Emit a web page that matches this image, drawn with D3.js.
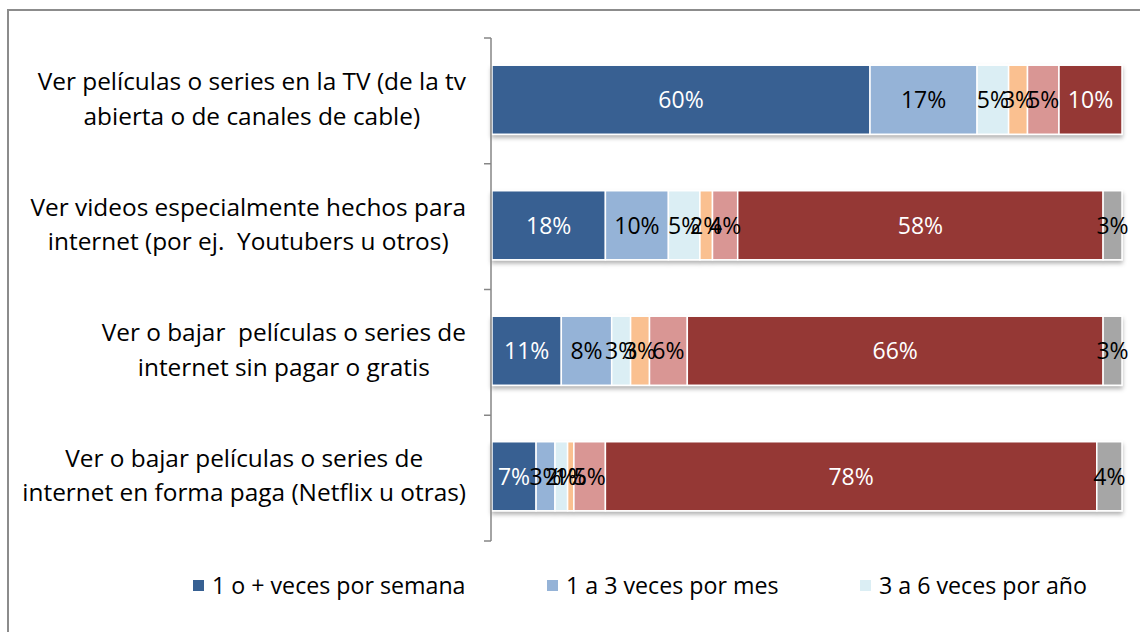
<!DOCTYPE html>
<html><head><meta charset="utf-8">
<script src="https://cdn.jsdelivr.net/npm/d3@7"></script>
<style>
html,body{margin:0;padding:0;background:#fff;}
svg{display:block;font-family:"Open Sans","Noto Sans",sans-serif;}
text{white-space:pre;}
</style></head>
<body>
<svg id="chart" width="1140" height="632"></svg>
<script>
const categories = [
  ["Ver películas o series en la TV (de la tv", "abierta o de canales de cable)"],
  ["Ver videos especialmente hechos para", "internet (por ej.  Youtubers u otros)"],
  ["Ver o bajar  películas o series de", "internet sin pagar o gratis"],
  ["Ver o bajar películas o series de", "internet en forma paga (Netflix u otras)"]
];
// one array per series, values per category (%)
const s1 = [60, 18, 11, 7];
const s2 = [17, 10, 8, 3];
const s3 = [5, 5, 3, 2];
const s4 = [3, 2, 3, 1];
const s5 = [5, 4, 6, 5];
const s6 = [10, 58, 66, 78];
const s7 = [0, 3, 3, 4];
const seriesValues = [s1, s2, s3, s4, s5, s6, s7];
const seriesColors = ["#376092", "#95B3D7", "#DBEEF4", "#FAC090", "#D99694", "#953735", "#A6A6A6"];
const labelColors = ["#fff", "#000", "#000", "#000", "#000", "#fff", "#000"];
const legendNames = ["1 o + veces por semana", "1 a 3 veces por mes", "3 a 6 veces por año"];

const svg = d3.select("#chart");
const defs = svg.append("defs");
const f = defs.append("filter").attr("id","sh").attr("x","-5%").attr("y","-10%").attr("width","110%").attr("height","140%");
f.append("feDropShadow").attr("dx",0).attr("dy",3).attr("stdDeviation",2).attr("flood-color","#000").attr("flood-opacity",0.3);

// frame
svg.append("rect").attr("x",8).attr("y",10).attr("width",1140).attr("height",640)
  .attr("fill","none").attr("stroke","#8c8c8c").attr("stroke-width",2);

const x = d3.scaleLinear().domain([0,100]).range([492,1122]);
const y = d3.scaleBand().domain(d3.range(categories.length)).range([37,539]).paddingInner(0.45).paddingOuter(0.225);
const yb = d3.scaleBand().domain(d3.range(categories.length)).range([38,541]);

// stacked data
const rows = categories.map((c,i)=>{
  let acc=0;
  return seriesValues.map((s,k)=>{ const d={row:i,k:k,v:s[i],x0:acc,x1:acc+s[i]}; acc+=s[i]; return d; });
});

const gBars = svg.append("g");
rows.forEach((r,i)=>{
  const g = gBars.append("g").attr("filter","url(#sh)");
  g.selectAll("rect").data(r.filter(d=>d.v>0)).join("rect")
    .attr("x",d=>x(d.x0)).attr("width",d=>x(d.x1)-x(d.x0))
    .attr("y",y(i)).attr("height",y.bandwidth())
    .attr("fill",d=>seriesColors[d.k]).attr("stroke","#fff").attr("stroke-width",1.5);
});
rows.forEach((r,i)=>{
  gBars.append("g").selectAll("text").data(r.filter(d=>d.v>0)).join("text")
    .attr("x",d=>(x(d.x0)+x(d.x1))/2).attr("y",y(i)+y.bandwidth()/2)
    .attr("dy","0.36em").attr("text-anchor","middle")
    .attr("font-size",23).attr("fill",d=>labelColors[d.k])
    .text(d=>d.v+"%");
});

// axis
const axis = d3.axisLeft(yb).tickSize(7).tickFormat("");
const ga = svg.append("g").attr("transform","translate(491,0)").call(axis);
ga.select(".domain").remove();
ga.selectAll(".tick").remove();
ga.append("line").attr("x1",0).attr("x2",0).attr("y1",38).attr("y2",541).attr("stroke","#868686").attr("stroke-width",1.5);
const tickYs = yb.domain().map(d=>yb(d)).concat([yb.range()[1]]);
ga.selectAll("line.t").data(tickYs).join("line").attr("class","t")
  .attr("x1",-7).attr("x2",0).attr("y1",d=>d).attr("y2",d=>d).attr("stroke","#868686").attr("stroke-width",1.5);

// category labels
const gl = svg.append("g");
categories.forEach((lines,i)=>{
  const cy = y(i)+y.bandwidth()/2;
  const t = gl.append("text").attr("font-size",24.4).attr("fill","#000").attr("text-anchor","middle");
  const spans = lines.map((l,j)=>t.append("tspan").attr("y",cy-9.5+j*34.5).text(l));
  let maxW = 0;
  spans.forEach(s=>{ maxW = Math.max(maxW, s.node().getComputedTextLength()); });
  spans.forEach(s=>s.attr("x",466-maxW/2));
});

// legend
const legX = [193, 547, 860];
const lg = svg.append("g");
legendNames.forEach((n,i)=>{
  lg.append("rect").attr("x",legX[i]).attr("y",580).attr("width",11).attr("height",11).attr("fill",seriesColors[i]);
  lg.append("text").attr("x",legX[i]+19).attr("y",586).attr("dy","0.36em").attr("font-size",23.2).attr("fill","#000").text(n);
});
</script>
</body></html>
